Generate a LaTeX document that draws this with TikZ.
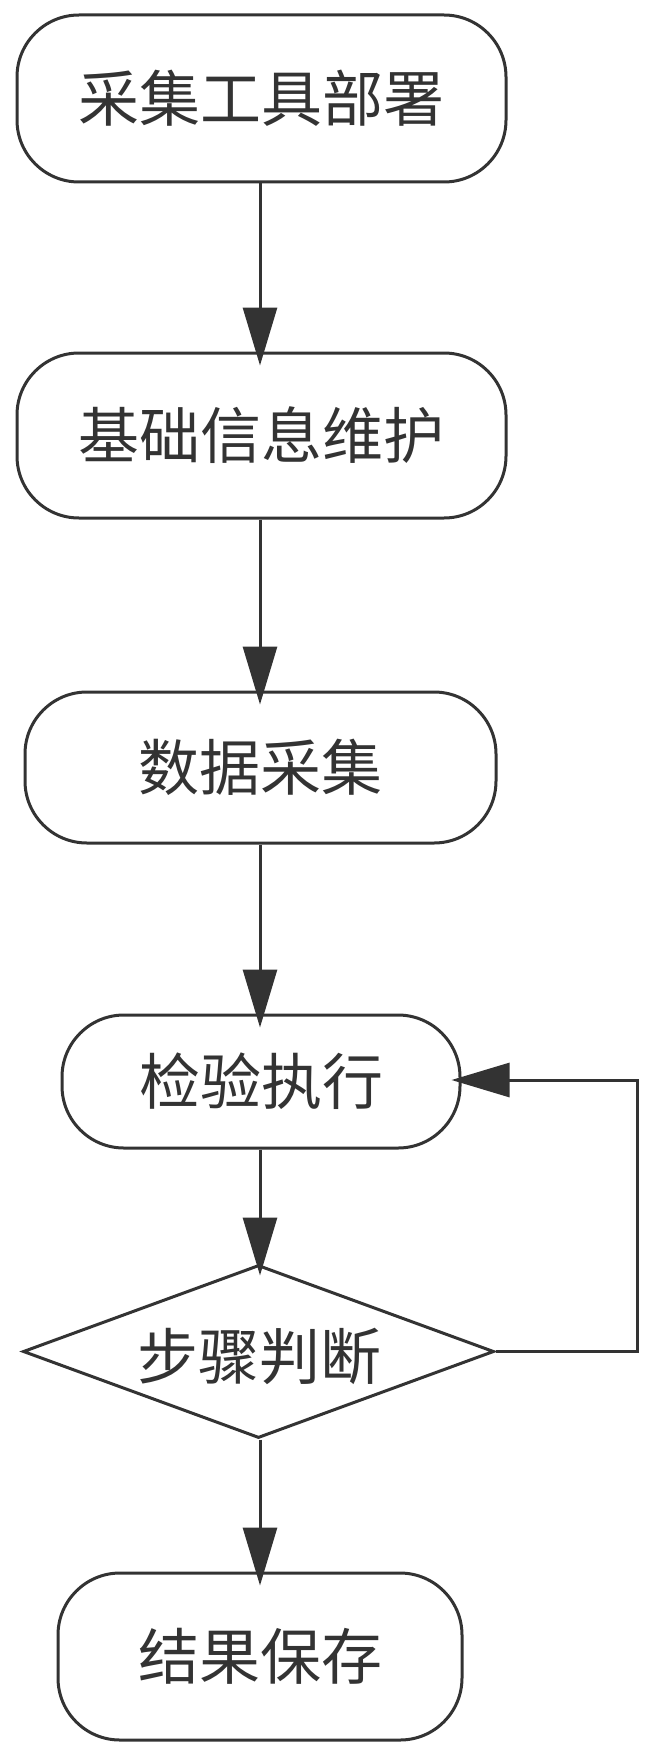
\documentclass[tikz,border=0pt]{standalone}
\usepackage{fontspec}
\newfontfamily\cjk{Noto Sans CJK SC}
\usetikzlibrary{shapes.geometric,arrows.meta}
\definecolor{ln}{HTML}{333333}
\begin{document}
\begin{tikzpicture}[x=1pt,y=-1pt,
  stepbox/.style={draw=ln,line width=3pt,rounded corners=62pt,fill=white,inner sep=0pt,
    font=\cjk\fontsize{61}{64}\selectfont,text=ln},
  decide/.style={draw=ln,line width=3pt,diamond,fill=white,inner sep=0pt},
  lbl/.style={font=\cjk\fontsize{61}{64}\selectfont,text=ln,inner sep=0pt},
  conn/.style={draw=ln,line width=3pt,-{Triangle[length=58pt,width=34pt]}}]
\useasboundingbox (0,0) rectangle (653,1755);
\node[stepbox,minimum width=489pt,minimum height=167pt] (b1) at (261.5,98.5) {采集工具部署};
\node[stepbox,minimum width=489pt,minimum height=165pt] (b2) at (261.5,435.5) {基础信息维护};
\node[stepbox,minimum width=471pt,minimum height=151pt] (b3) at (260.5,767.5) {数据采集};
\node[stepbox,minimum width=398pt,minimum height=133pt] (b4) at (261,1081.5) {检验执行};
\node[decide,minimum width=471pt,minimum height=173pt] (d) at (258.5,1351.5) {};
\node[lbl] (dt) at (259,1356) {步骤判断};
\node[stepbox,minimum width=404pt,minimum height=167pt] (b5) at (260,1656.5) {结果保存};
\coordinate (c1) at (637,1351.5);
\coordinate (c2) at (637,1080);
\draw[conn,shorten >=-14pt] (b1.south -| 260,0) -- (b2.north -| 260,0);
\draw[conn,shorten >=-14pt] (b2.south -| 260,0) -- (b3.north -| 260,0);
\draw[conn,shorten >=-14pt] (b3.south -| 260,0) -- (b4.north -| 260,0);
\draw[conn,shorten >=-12pt] (b4.south -| 260,0) -- (d.north -| 260,0);
\draw[conn,shorten >=-14pt] (d.south -| 260,0) -- (b5.north -| 260,0);
\draw[conn,shorten >=-10pt] (d.east) -- (c1) -- (c2) -- (b4.east |- c2);
\end{tikzpicture}
\end{document}
